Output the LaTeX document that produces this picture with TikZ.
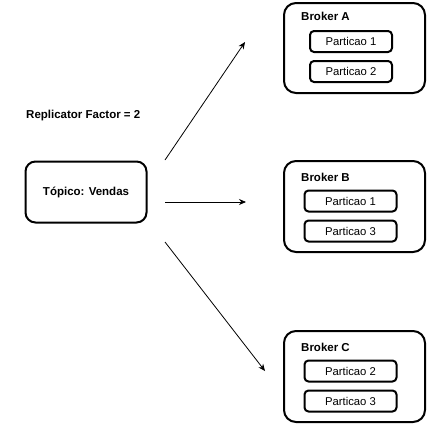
\documentclass[tikz,border=0pt]{standalone}
\usepackage{fontspec}
\setmainfont{Liberation Sans}
\usetikzlibrary{arrows.meta}
\begin{document}
\begin{tikzpicture}[x=1pt,y=-1pt,
  brokerbox/.style={draw,line width=2pt,rounded corners=12pt},
  partbox/.style={draw,line width=2pt,rounded corners=4pt,minimum height=21pt,inner sep=0pt,font=\fontsize{11.3}{13}\selectfont},
  boldlabel/.style={inner sep=0pt,anchor=west,font=\fontsize{11.5}{13}\selectfont\bfseries},
  conn/.style={line width=0.8pt,-{Stealth[length=7pt,width=6pt]}}]
\useasboundingbox (0,0) rectangle (427,423);
% Broker A
\draw[brokerbox] (284,3) rectangle (425,93);
\node[boldlabel] (la) at (301,16) {Broker A};
\node[partbox,minimum width=82pt] (a1) at (351,41.5) {Particao 1};
\node[partbox,minimum width=82pt] (a2) at (351,71.5) {Particao 2};
% Broker B
\draw[brokerbox] (284,161) rectangle (425,252);
\node[boldlabel] (lb) at (301,177) {Broker B};
\node[partbox,minimum width=92pt] (b1) at (350.5,201) {Particao 1};
\node[partbox,minimum width=92pt] (b3) at (350.5,231) {Particao 3};
% Broker C
\draw[brokerbox] (284,331) rectangle (425,422);
\node[boldlabel] (lc) at (301,347) {Broker C};
\node[partbox,minimum width=92pt] (c2) at (350.5,371) {Particao 2};
\node[partbox,minimum width=92pt] (c3) at (350.5,401) {Particao 3};
% Topic
\node[draw,line width=2pt,rounded corners=10pt,minimum width=121pt,minimum height=61pt,font=\fontsize{11.5}{13}\selectfont\bfseries] (topico) at (86,192) {Tópico: Vendas};
\node[boldlabel] (rf) at (26,116) {Replicator Factor = 2};
% connectors
\coordinate (s1) at (165,160);
\coordinate (e1) at (245,42);
\coordinate (s2) at (165,202);
\coordinate (e2) at (246,202);
\coordinate (s3) at (165,242);
\coordinate (e3) at (265,371);
\draw[conn] (s1) -- (e1);
\draw[conn] (s2) -- (e2);
\draw[conn] (s3) -- (e3);
\end{tikzpicture}
\end{document}
